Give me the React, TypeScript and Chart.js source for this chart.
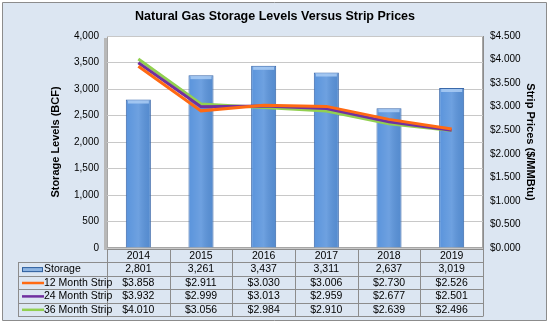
import React, { useEffect, useRef } from "react";
import { Chart, registerables } from "chart.js";

Chart.register(...registerables);

const categories = ["2014", "2015", "2016", "2017", "2018", "2019"];
const storage = [2801, 3261, 3437, 3311, 2637, 3019];
const strip12 = [3.858, 2.911, 3.03, 3.006, 2.73, 2.526];
const strip24 = [3.932, 2.999, 3.013, 2.959, 2.677, 2.501];
const strip36 = [4.01, 3.056, 2.984, 2.91, 2.639, 2.496];

const seriesNames = ["Storage", "12 Month Strip", "24 Month Strip", "36 Month Strip"];
const seriesColors = ["#5a94dc", "#ff6a13", "#7030a0", "#92d050"];
const chartTitle = "Natural Gas Storage Levels Versus Strip Prices";

const FONT = "'Liberation Sans', Arial, sans-serif";

const fmtStorage = (v: number) => v.toLocaleString("en-US");
const fmtPrice = (v: number) => "$" + v.toFixed(3);

const framePlugin = {
  id: "frame",
  beforeDraw(chart: any) {
    const { ctx, width, height, chartArea } = chart;
    ctx.save();
    ctx.fillStyle = "#ffffff";
    ctx.fillRect(0, 0, width, height);
    ctx.fillStyle = "#dce6f2";
    ctx.strokeStyle = "#8c8c8c";
    ctx.lineWidth = 1;
    ctx.beginPath();
    ctx.rect(2.5, 2.5, width - 6, height - 6);
    ctx.fill();
    ctx.stroke();
    ctx.fillStyle = "#b8b8b8";
    ctx.fillRect(chartArea.left - 3, chartArea.top + 2, 3, chartArea.bottom - chartArea.top);
    ctx.fillStyle = "#ffffff";
    ctx.fillRect(chartArea.left, chartArea.top, chartArea.right - chartArea.left, chartArea.bottom - chartArea.top);
    ctx.strokeStyle = "#a6a6a6";
    ctx.strokeRect(chartArea.left + 0.5, chartArea.top + 0.5, chartArea.right - chartArea.left - 1, chartArea.bottom - chartArea.top - 1);
    ctx.fillStyle = "#000";
    ctx.font = "bold 12.5px " + FONT;
    ctx.textAlign = "center";
    ctx.textBaseline = "middle";
    ctx.fillText(chartTitle, 275, 17);
    ctx.restore();
  },
};

const tablePlugin = {
  id: "dataTable",
  afterDraw(chart: any) {
    const { ctx, chartArea, scales } = chart;
    const xs = scales.x;
    const n = categories.length;
    const colW = (chartArea.right - chartArea.left) / n;
    const rowH = 13.4;
    const top = chartArea.bottom + 1;
    const labelLeft = 18;
    const rows: string[][] = [
      storage.map(fmtStorage),
      strip12.map(fmtPrice),
      strip24.map(fmtPrice),
      strip36.map(fmtPrice),
    ];
    ctx.save();
    ctx.strokeStyle = "#8c8c8c";
    ctx.lineWidth = 1;
    ctx.font = "10.5px " + FONT;
    ctx.fillStyle = "#000";
    ctx.textBaseline = "middle";
    ctx.textAlign = "center";
    const tableBottom = Math.round(top + rowH * (rows.length + 1));
    for (let i = 0; i <= n; i++) {
      const x = Math.round(chartArea.left + i * colW) + 0.5;
      ctx.beginPath();
      ctx.moveTo(x, top);
      ctx.lineTo(x, tableBottom + 0.5);
      ctx.stroke();
    }
    ctx.beginPath();
    ctx.moveTo(labelLeft + 0.5, Math.round(top + rowH) + 0.5);
    ctx.lineTo(labelLeft + 0.5, tableBottom + 0.5);
    ctx.stroke();
    for (let r = 0; r <= rows.length + 1; r++) {
      const y = Math.round(top + r * rowH) + 0.5;
      ctx.beginPath();
      ctx.moveTo(r === 0 ? chartArea.left : labelLeft, y);
      ctx.lineTo(chartArea.right, y);
      ctx.stroke();
    }
    categories.forEach((c, i) => {
      const cx = xs.getPixelForValue(i);
      ctx.fillText(c, cx, top + rowH / 2 + 0.5);
    });
    rows.forEach((row, r) => {
      const cy = top + rowH * (r + 1) + rowH / 2 + 0.5;
      row.forEach((v, i) => {
        ctx.fillText(v, xs.getPixelForValue(i), cy);
      });
      if (r === 0) {
        ctx.fillStyle = "#8db4e2";
        ctx.fillRect(labelLeft + 4, cy - 2.5, 21, 5);
        ctx.strokeStyle = "#2f5f9e";
        ctx.strokeRect(labelLeft + 4.5, cy - 2, 20, 4);
        ctx.strokeStyle = "#8c8c8c";
      } else {
        ctx.strokeStyle = seriesColors[r];
        ctx.lineWidth = 2.5;
        ctx.beginPath();
        ctx.moveTo(labelLeft + 4, cy);
        ctx.lineTo(labelLeft + 26, cy);
        ctx.stroke();
        ctx.lineWidth = 1;
        ctx.strokeStyle = "#8c8c8c";
      }
      ctx.fillStyle = "#000";
      ctx.textAlign = "left";
      ctx.fillText(seriesNames[r], labelLeft + 26, cy);
      ctx.textAlign = "center";
    });
    ctx.restore();
  },
};

const barCapPlugin = {
  id: "barCap",
  afterDatasetDraw(chart: any, args: any) {
    if (args.index !== 0) return;
    const { ctx } = chart;
    const meta = chart.getDatasetMeta(0);
    ctx.save();
    meta.data.forEach((bar: any) => {
      const w = bar.width;
      const x0 = bar.x - w / 2;
      const g = ctx.createLinearGradient(x0, 0, x0 + w, 0);
      g.addColorStop(0, "rgba(255,255,255,0)");
      g.addColorStop(0.5, "rgba(255,255,255,0.12)");
      g.addColorStop(1, "rgba(0,0,0,0.06)");
      ctx.fillStyle = g;
      ctx.fillRect(x0 + 1, bar.y + 1, w - 2, bar.base - bar.y - 1);
      ctx.fillStyle = "rgba(170,205,245,0.85)";
      ctx.fillRect(x0 + 2, bar.y + 1, w - 4, 3);
    });
    ctx.restore();
  },
};

export default function App() {
  const ref = useRef<HTMLCanvasElement>(null);
  useEffect(() => {
    document.body.style.margin = "0";
    const canvas = ref.current!;
    const chart = new Chart(canvas, {
      type: "bar",
      data: {
        labels: categories,
        datasets: [
          {
            type: "bar",
            label: seriesNames[0],
            data: storage,
            backgroundColor: seriesColors[0],
            borderColor: "#3a68aa",
            borderWidth: 1,
            barPercentage: 0.4,
            categoryPercentage: 1,
            yAxisID: "y",
            order: 4,
          },
          {
            type: "line",
            label: seriesNames[1],
            data: strip12,
            borderColor: seriesColors[1],
            borderWidth: 3,
            pointRadius: 0,
            yAxisID: "y2",
            order: 1,
          },
          {
            type: "line",
            label: seriesNames[2],
            data: strip24,
            borderColor: seriesColors[2],
            borderWidth: 3,
            pointRadius: 0,
            yAxisID: "y2",
            order: 2,
          },
          {
            type: "line",
            label: seriesNames[3],
            data: strip36,
            borderColor: seriesColors[3],
            borderWidth: 3,
            pointRadius: 0,
            yAxisID: "y2",
            order: 3,
          },
        ] as any,
      },
      options: {
        responsive: false,
        animation: false,
        layout: { padding: { left: 45, right: 9, top: 36, bottom: 76 } },
        plugins: {
          legend: { display: false },
          tooltip: { enabled: false },
          title: { display: false },
        },
        scales: {
          x: {
            display: false,
            offset: true,
            grid: { display: false },
          },
          y: {
            position: "left",
            min: 0,
            max: 4000,
            ticks: {
              stepSize: 500,
              color: "#000",
              font: { family: FONT, size: 10 },
              callback: (v: any) => fmtStorage(Number(v)),
              padding: 8,
            },
            grid: { color: "#c8c8c8", drawTicks: false },
            border: { display: false },
            title: {
              display: true,
              text: "Storage Levels (BCF)",
              color: "#000",
              font: { family: FONT, size: 11, weight: "bold" },
              padding: 4,
            },
            afterFit: (s: any) => {
              s.width = 62;
            },
          },
          y2: {
            position: "right",
            min: 0,
            max: 4.5,
            ticks: {
              stepSize: 0.5,
              color: "#000",
              font: { family: FONT, size: 10 },
              callback: (v: any) => fmtPrice(Number(v)),
              padding: 3,
            },
            grid: { display: false, drawOnChartArea: false, tickLength: 4, tickColor: "#8c8c8c" },
            border: { display: true, color: "#8c8c8c" },
            title: {
              display: true,
              text: "Strip Prices ($/MMBtu)",
              color: "#000",
              font: { family: FONT, size: 11, weight: "bold" },
              padding: 4,
            },
            afterFit: (s: any) => {
              s.width = 58;
            },
          },
        },
      } as any,
      plugins: [framePlugin, tablePlugin, barCapPlugin],
    });
    return () => chart.destroy();
  }, []);
  return <canvas ref={ref} width={550} height={324} style={{ display: "block" }} />;
}
